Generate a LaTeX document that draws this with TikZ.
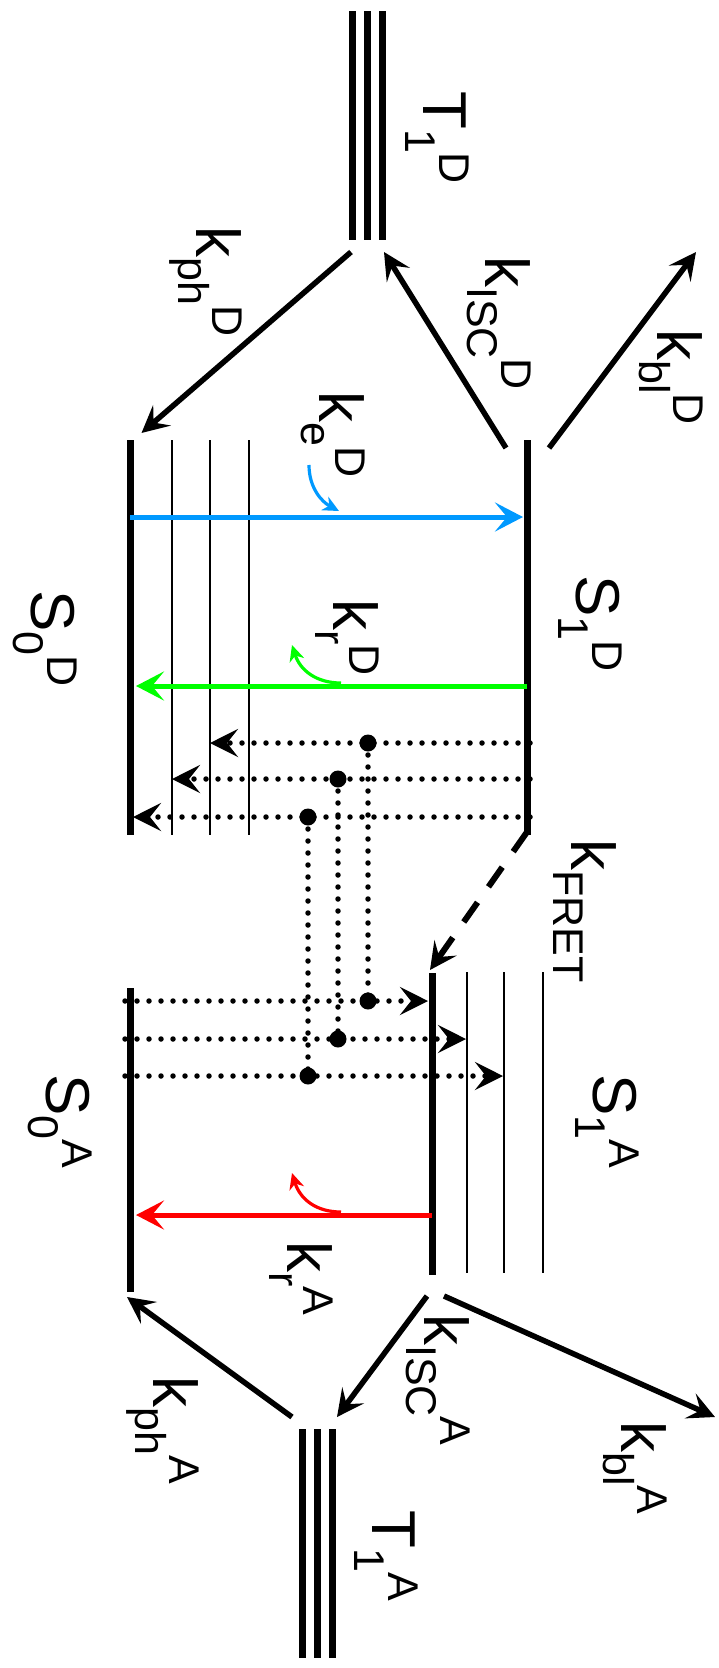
\documentclass[tikz,border=0pt]{standalone}
\usepackage{fontspec}
\setmainfont{Liberation Sans}
\usetikzlibrary{arrows.meta}
\definecolor{exblue}{RGB}{0,153,255}
\definecolor{emgreen}{RGB}{0,255,0}
\definecolor{emred}{RGB}{255,0,0}
\newcommand\lb[3]{#1\raisebox{-18pt}{\fontsize{43}{45}\selectfont #2}\raisebox{16pt}{\fontsize{43}{45}\selectfont #3}}
\begin{document}
\begin{tikzpicture}[x=1pt,y=-1pt,
  thick level/.style={line width=7pt},
  thin level/.style={line width=1.7pt},
  arr/.style={line width=5.5pt,-{Stealth[length=27pt,width=27pt,inset=11pt]}},
  colarr/.style={line width=5pt,-{Stealth[length=28pt,width=29pt,inset=12pt]}},
  dotline/.style={line width=5.5pt,line cap=round,dash pattern=on 0pt off 12pt},
  dotarr/.style={dotline,-{Stealth[length=28pt,width=28pt,inset=11pt]}},
  fretarr/.style={line width=6pt,dash pattern=on 24pt off 19pt,-{Stealth[length=27pt,width=27pt,inset=11pt]}},
  curv/.style={line width=3.2pt,-{Stealth[length=16pt,width=15pt,inset=5pt]}},
  lab/.style={rotate=-90,anchor=base west,inner sep=0pt,font=\fontsize{62}{70}\selectfont}]
\useasboundingbox (0,0) rectangle (719,1668);

% ---- levels (coordinates) ----
\coordinate (T1Da1) at (352.6,11); \coordinate (T1Da2) at (352.6,240);
\coordinate (T1Db1) at (367.6,11); \coordinate (T1Db2) at (367.6,240);
\coordinate (T1Dc1) at (382.6,11); \coordinate (T1Dc2) at (382.6,240);
\coordinate (S0Dt) at (130,440); \coordinate (S0Db) at (130,835);
\coordinate (S1Dt) at (527,440); \coordinate (S1Db) at (527,835);
\coordinate (v1t) at (172,440); \coordinate (v1b) at (172,835);
\coordinate (v2t) at (210,440); \coordinate (v2b) at (210,835);
\coordinate (v3t) at (249,440); \coordinate (v3b) at (249,835);
\coordinate (S1At) at (432,973); \coordinate (S1Ab) at (432,1275);
\coordinate (w1t) at (467,972); \coordinate (w1b) at (467,1273);
\coordinate (w2t) at (504,972); \coordinate (w2b) at (504,1273);
\coordinate (w3t) at (543,972); \coordinate (w3b) at (543,1273);
\coordinate (S0At) at (130,988); \coordinate (S0Ab) at (130,1292);
\coordinate (T1Aa1) at (302,1429); \coordinate (T1Aa2) at (302,1658);
\coordinate (T1Ab1) at (317,1429); \coordinate (T1Ab2) at (317,1658);
\coordinate (T1Ac1) at (332,1429); \coordinate (T1Ac2) at (332,1658);

\draw[thick level] (T1Da1) -- (T1Da2);
\draw[thick level] (T1Db1) -- (T1Db2);
\draw[thick level] (T1Dc1) -- (T1Dc2);
\draw[thick level] (S0Dt) -- (S0Db);
\draw[thick level] (S1Dt) -- (S1Db);
\draw[thin level] (v1t) -- (v1b);
\draw[thin level] (v2t) -- (v2b);
\draw[thin level] (v3t) -- (v3b);
\draw[thick level] (S1At) -- (S1Ab);
\draw[thin level] (w1t) -- (w1b);
\draw[thin level] (w2t) -- (w2b);
\draw[thin level] (w3t) -- (w3b);
\draw[thick level] (S0At) -- (S0Ab);
\draw[thick level] (T1Aa1) -- (T1Aa2);
\draw[thick level] (T1Ab1) -- (T1Ab2);
\draw[thick level] (T1Ac1) -- (T1Ac2);

% ---- donor side black arrows ----
\coordinate (phD0) at (351,252); \coordinate (phD1) at (141.5,433);
\coordinate (iscD0) at (506,448); \coordinate (iscD1) at (384,252);
\coordinate (blD0) at (549,448); \coordinate (blD1) at (696,252);
\draw[arr] (phD0) -- (phD1);
\draw[arr] (iscD0) -- (iscD1);
\draw[arr] (blD0) -- (blD1);

% ---- excitation / emission ----
\coordinate (ex0) at (130,517); \coordinate (ex1) at (523,517);
\draw[colarr,exblue] (ex0) -- (ex1);
\coordinate (ec0) at (309,465); \coordinate (ec1) at (339,511);
\draw[curv,exblue] (ec0) .. controls (309,488) and (322,502) .. (ec1);

\coordinate (em0) at (527,686); \coordinate (em1) at (136,686);
\draw[colarr,emgreen] (em0) -- (em1);
\coordinate (gc0) at (341,683); \coordinate (gc1) at (292,645);
\draw[curv,emgreen] (gc0) .. controls (316,683) and (300,670) .. (gc1);

\coordinate (ra0) at (432,1215); \coordinate (ra1) at (136,1215);
\draw[colarr,emred] (ra0) -- (ra1);
\coordinate (rc0) at (341,1212); \coordinate (rc1) at (292,1173);
\draw[curv,emred] (rc0) .. controls (316,1212) and (300,1199) .. (rc1);

% ---- dotted coupling ----
\coordinate (d1s) at (530,743); \coordinate (d1e) at (210,743);
\coordinate (d2s) at (530,779); \coordinate (d2e) at (172,779);
\coordinate (d3s) at (530,817); \coordinate (d3e) at (133,817);
\coordinate (a1s) at (125,1001); \coordinate (a1e) at (428,1001);
\coordinate (a2s) at (125,1039); \coordinate (a2e) at (466,1039);
\coordinate (a3s) at (125,1076); \coordinate (a3e) at (503,1076);
\coordinate (p1) at (368,743); \coordinate (q1) at (368,1001);
\coordinate (p2) at (338,779); \coordinate (q2) at (338,1039);
\coordinate (p3) at (308,817); \coordinate (q3) at (308,1076);
\draw[dotarr] (d1s) -- (d1e);
\draw[dotarr] (d2s) -- (d2e);
\draw[dotarr] (d3s) -- (d3e);
\draw[dotarr] (a1s) -- (a1e);
\draw[dotarr] (a2s) -- (a2e);
\draw[dotarr] (a3s) -- (a3e);
\draw[dotline] (p1) -- (q1);
\draw[dotline] (p2) -- (q2);
\draw[dotline] (p3) -- (q3);
\foreach \c in {p1,p2,p3,q1,q2,q3} \fill (\c) circle (8.5pt);

% ---- FRET ----
\coordinate (fr0) at (527,832); \coordinate (fr1) at (430,970);
\draw[fretarr] (fr0) -- (fr1);

% ---- acceptor side black arrows ----
\coordinate (iscA0) at (427,1296); \coordinate (iscA1) at (337,1417);
\coordinate (blA0) at (444,1296); \coordinate (blA1) at (715,1417);
\coordinate (phA0) at (292,1417); \coordinate (phA1) at (127,1297);
\draw[arr] (iscA0) -- (iscA1);
\draw[arr] (blA0) -- (blA1);
\draw[arr] (phA0) -- (phA1);

% ---- labels ----
\node[lab] (lT1D) at (423,91) {\lb{T}{1}{D}};
\node[lab] (lphD) at (196,226) {\lb{k}{ph}{D}};
\node[lab] (liscD) at (485,256) {\lb{k}{ISC}{D}};
\node[lab] (lblD) at (657,329) {\lb{k}{bl}{D}};
\node[lab] (leD) at (319,391) {\lb{k}{e}{D}};
\node[lab] (lrD) at (333,599) {\lb{k}{r}{D}};
\node[lab] (lS1D) at (576,575) {\lb{S}{1}{D}};
\node[lab] (lS0D) at (31,590) {\lb{S}{0}{D}};
\node[lab] (lfret) at (571,839) {k\raisebox{-18pt}{\fontsize{43}{45}\selectfont FRET}};
\node[lab] (lS1A) at (593,1074) {\lb{S}{1}{A}};
\node[lab] (lS0A) at (46,1074) {\lb{S}{0}{A}};
\node[lab] (lrA) at (287,1241) {\lb{k}{r}{A}};
\node[lab] (liscA) at (424,1314) {\lb{k}{ISC}{A}};
\node[lab] (lblA) at (621,1421) {\lb{k}{bl}{A}};
\node[lab] (lphA) at (153,1376) {\lb{k}{ph}{A}};
\node[lab] (lT1A) at (372,1510) {\lb{T}{1}{A}};
\end{tikzpicture}
\end{document}
